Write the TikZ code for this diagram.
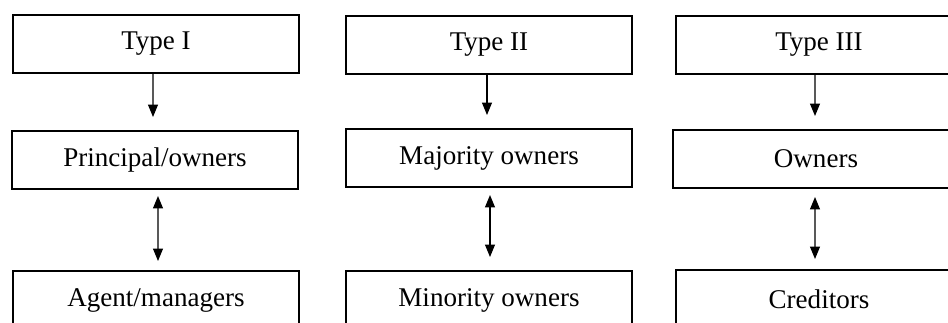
\documentclass[tikz,border=0pt]{standalone}
\usepackage{fontspec}
\setmainfont{Liberation Serif}
\usetikzlibrary{positioning}
\usetikzlibrary{arrows.meta}

\begin{document}
\begin{tikzpicture}[x=0.02cm, y=-0.02cm,
		agencybox/.style={
			draw,
			rectangle,
			line width=0.04cm,
			minimum width=5.72cm,
			minimum height=1.16cm,
			inner sep=0pt,
			font=\fontsize{15.4pt}{18pt}\selectfont
		},
		linkarrow/.style={line width=0.025cm, -{Triangle[width=0.2cm, length=0.25cm]}},
		botharrow/.style={line width=0.025cm, {Triangle[width=0.2cm, length=0.25cm]}-{Triangle[width=0.2cm, length=0.25cm]}}]
		\path[use as bounding box, clip] (0,0) rectangle (948,322);
		
		% Type I
		\node[agencybox] (typeone) at (156,44) {Type I};
		\node[agencybox] (principal) at (155,160) {Principal/owners};
		\node[agencybox] (agent) at (156,300) {Agent/managers};
		
		% Type II
		\node[agencybox] (typetwo) at (489,45) {Type II};
		\node[agencybox] (majority) at (489,158) {Majority owners};
		\node[agencybox] (minority) at (489,300) {Minority owners};
		
		% Type III
		\node[agencybox] (typethree) at (819,45) {Type III};
		\node[agencybox] (owners) at (816,159) {Owners};
		\node[agencybox] (creditors) at (819,299) {Creditors};
		
		\draw[linkarrow, shorten >=0.26cm] ([xshift=-0.06cm]typeone.south) -- ([xshift=-0.04cm]principal.north);
		\draw[linkarrow, shorten >=0.26cm] ([xshift=-0.04cm]typetwo.south) -- ([xshift=-0.04cm]majority.north);
		\draw[linkarrow, shorten >=0.26cm] ([xshift=-0.08cm]typethree.south) -- ([xshift=-0.02cm]owners.north);
		
		\draw[botharrow, shorten <=0.12cm, shorten >=0.18cm] ([xshift=0.06cm]principal.south) -- ([xshift=0.04cm]agent.north);
		\draw[botharrow, shorten <=0.14cm, shorten >=0.26cm] ([xshift=0.02cm]majority.south) -- ([xshift=0.02cm]minority.north);
		\draw[botharrow, shorten <=0.16cm, shorten >=0.2cm] ([xshift=-0.02cm]owners.south) -- ([xshift=-0.08cm]creditors.north);
	\end{tikzpicture}
\end{document}
